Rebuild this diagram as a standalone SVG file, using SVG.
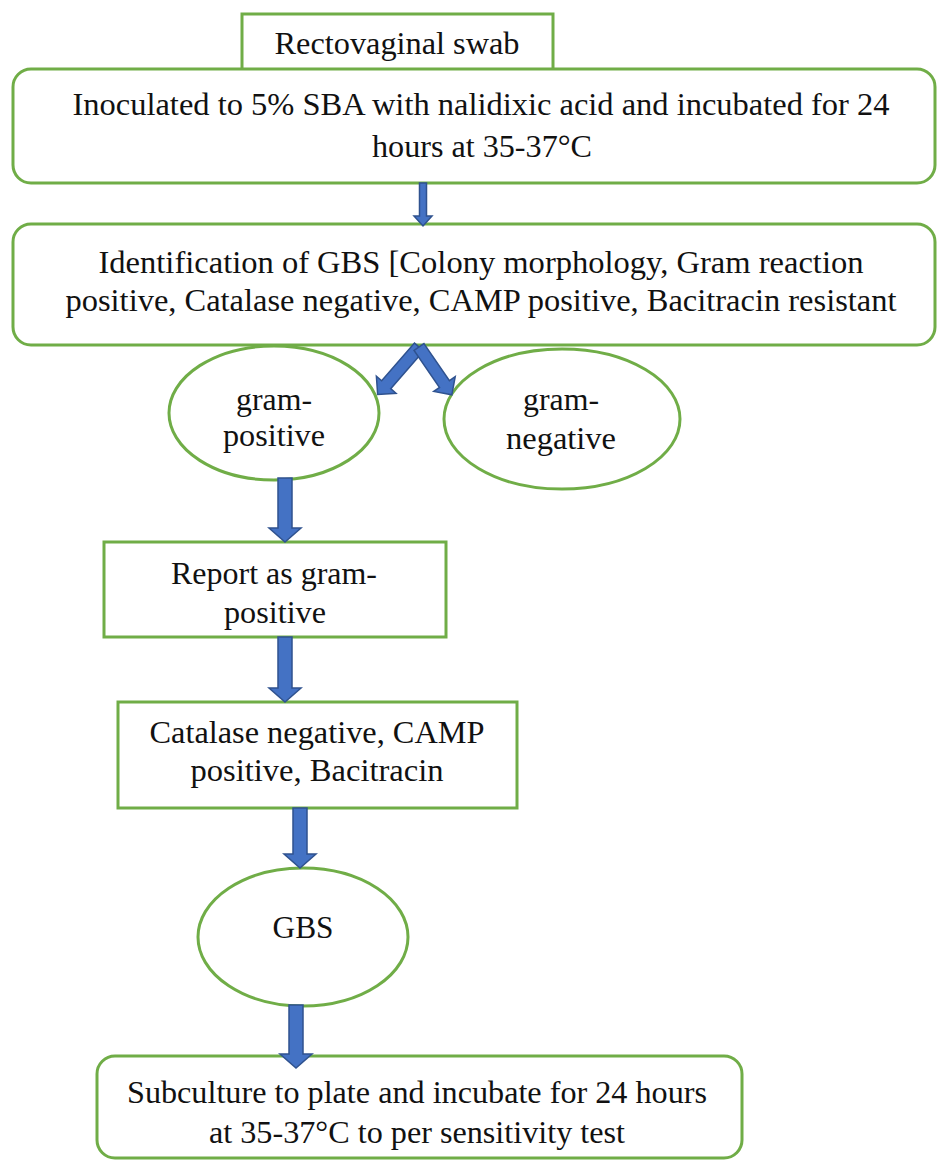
<svg xmlns="http://www.w3.org/2000/svg" width="937" height="1161" viewBox="0 0 937 1161">
<style>
.box{fill:#ffffff;stroke:#70AD47;stroke-width:3}
.arr{fill:#4472C4;stroke:#2F528F;stroke-width:1.5}
.t{font-size:31px;fill:#111111;text-anchor:middle}
</style>
<rect width="937" height="1161" fill="#ffffff"/>
<g font-family="Liberation Serif, Times New Roman, DejaVu Serif, serif">
<g id="swab">
<rect class="box" x="242" y="14" width="311" height="60"/>
<text class="t" x="397" y="54" textLength="245" lengthAdjust="spacingAndGlyphs">Rectovaginal swab</text>
</g>
<g id="inoculate">
<rect class="box" x="13" y="69" width="922" height="114" rx="18"/>
<text class="t" x="481" y="115" textLength="817" lengthAdjust="spacingAndGlyphs">Inoculated to 5% SBA with nalidixic acid and incubated for 24</text>
<text class="t" x="482" y="157" textLength="220" lengthAdjust="spacingAndGlyphs">hours at 35-37°C</text>
</g>
<g id="identification">
<rect class="box" x="13" y="224" width="922" height="121" rx="18"/>
<text class="t" x="481" y="273" textLength="765" lengthAdjust="spacingAndGlyphs">Identification of GBS [Colony morphology, Gram reaction</text>
<text class="t" x="481" y="311" textLength="831" lengthAdjust="spacingAndGlyphs">positive, Catalase negative, CAMP positive, Bacitracin resistant</text>
</g>
<g id="gram-positive">
<ellipse class="box" cx="274" cy="413" rx="105" ry="67"/>
<text class="t" x="274" y="410" textLength="76" lengthAdjust="spacingAndGlyphs">gram-</text>
<text class="t" x="274" y="446" textLength="102" lengthAdjust="spacingAndGlyphs">positive</text>
</g>
<g id="gram-negative">
<ellipse class="box" cx="562" cy="419" rx="118" ry="70"/>
<text class="t" x="561" y="410" textLength="76" lengthAdjust="spacingAndGlyphs">gram-</text>
<text class="t" x="561" y="449" textLength="110" lengthAdjust="spacingAndGlyphs">negative</text>
</g>
<g id="report">
<rect class="box" x="104" y="542" width="342" height="95"/>
<text class="t" x="274" y="584" textLength="206" lengthAdjust="spacingAndGlyphs">Report as gram-</text>
<text class="t" x="275" y="623" textLength="102" lengthAdjust="spacingAndGlyphs">positive</text>
</g>
<g id="catalase">
<rect class="box" x="118" y="702" width="399" height="106"/>
<text class="t" x="317" y="743" textLength="335" lengthAdjust="spacingAndGlyphs">Catalase negative, CAMP</text>
<text class="t" x="317" y="781" textLength="253" lengthAdjust="spacingAndGlyphs">positive, Bacitracin</text>
</g>
<g id="gbs">
<ellipse class="box" cx="303" cy="937" rx="105" ry="69"/>
<text class="t" x="303" y="938" textLength="61" lengthAdjust="spacingAndGlyphs">GBS</text>
</g>
<g id="subculture">
<rect class="box" x="97" y="1056" width="645" height="102" rx="18"/>
<text class="t" x="417" y="1103" textLength="580" lengthAdjust="spacingAndGlyphs">Subculture to plate and incubate for 24 hours</text>
<text class="t" x="417" y="1143" textLength="416" lengthAdjust="spacingAndGlyphs">at 35-37°C to per sensitivity test</text>
</g>
</g>
<g id="connectors">
<polygon class="arr" points="419.5,183 426.5,183 426.5,216 432,216 423,226 414,216 419.5,216"/>
<path class="arr" d="M0,-6 L50,-6 L50,-13 L63,0 L50,13 L50,6 L0,6 Z" transform="translate(419,347) rotate(131)"/>
<path class="arr" d="M0,-6 L45,-6 L45,-13 L58,0 L45,13 L45,6 L0,6 Z" transform="translate(419,347) rotate(55.5)"/>
<polygon class="arr" points="278,478 292,478 292,528 301,528 285,542 269,528 278,528"/>
<polygon class="arr" points="278,637 292,637 292,688 301,688 285,702 269,688 278,688"/>
<polygon class="arr" points="293,808 307,808 307,854 316,854 300,868 284,854 293,854"/>
<polygon class="arr" points="289,1005 303,1005 303,1054 312,1054 296,1068 280,1054 289,1054"/>
</g>
</svg>
